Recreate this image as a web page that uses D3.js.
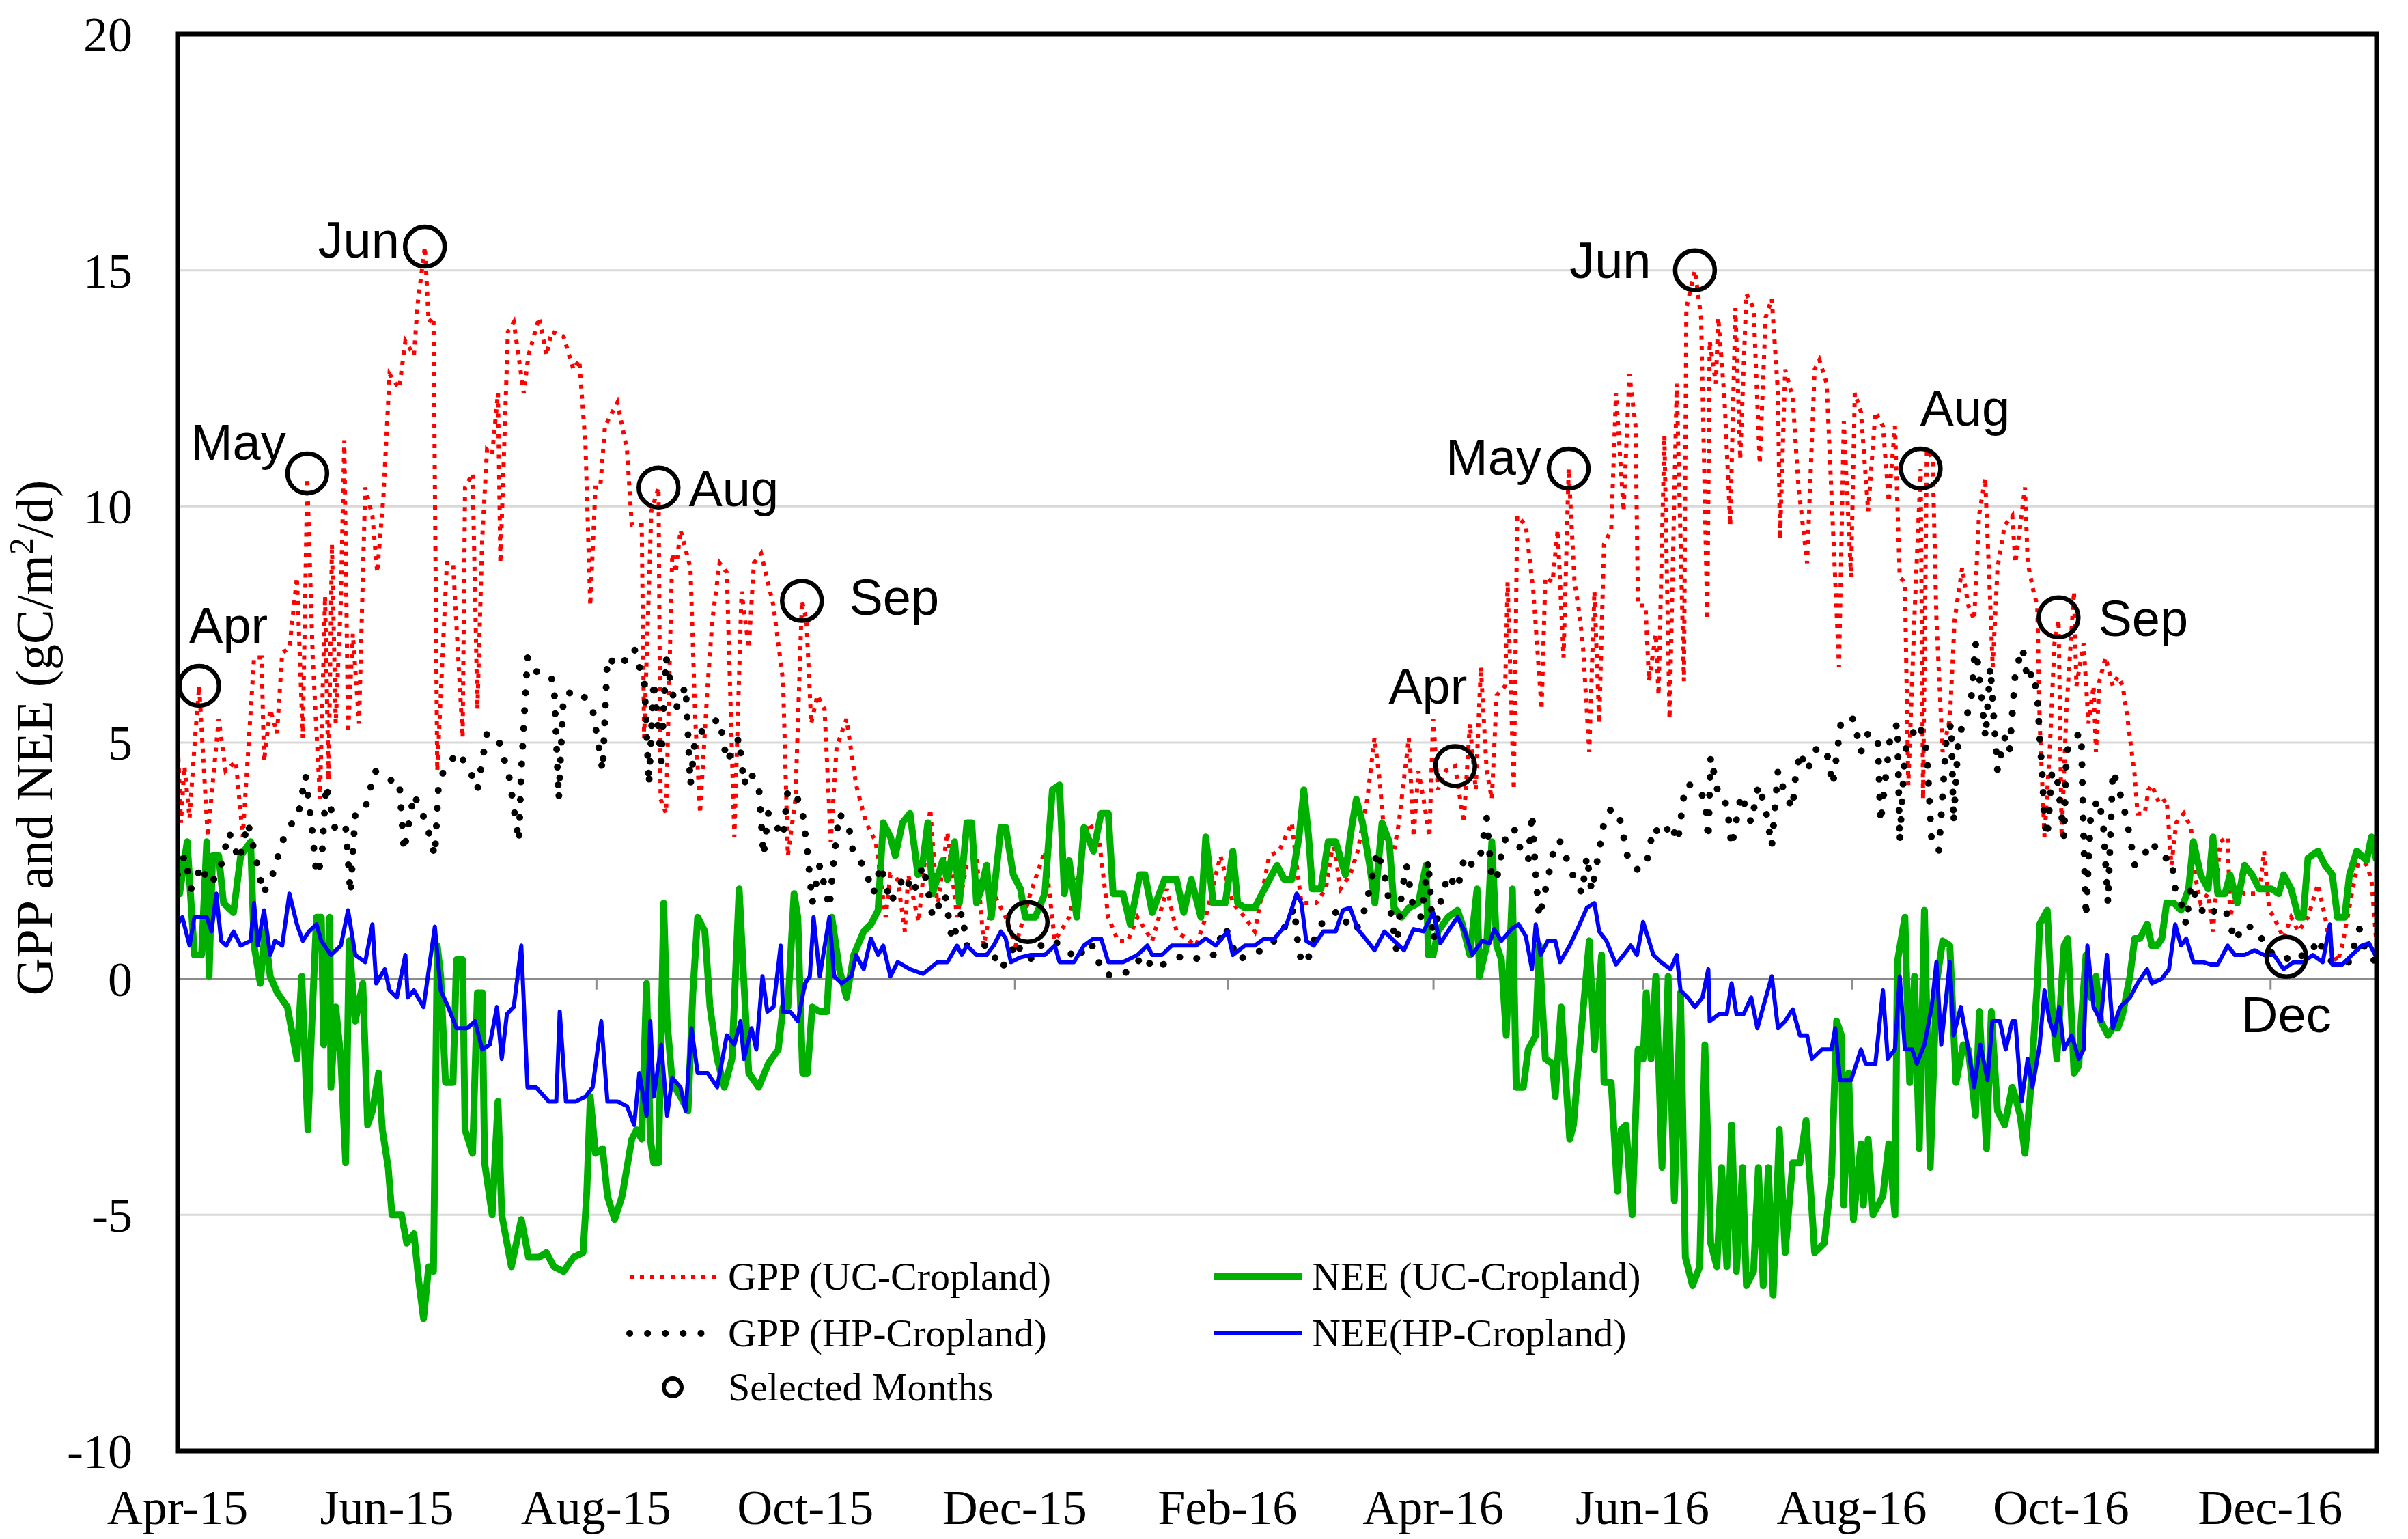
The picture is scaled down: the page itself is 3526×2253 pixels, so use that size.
<!DOCTYPE html>
<html>
<head>
<meta charset="utf-8">
<script src="https://cdn.jsdelivr.net/npm/d3@7"></script>
<style>
  html, body { margin: 0; padding: 0; background: #fff; }
  svg { display: block; }
</style>
</head>
<body>
<svg id="chart" width="3526" height="2253"></svg>
<script>
// Daily GPP / NEE as [days since 1 Apr 2015, value]

var gppUC = [
  [0,5.1],[1,3.3],[2,4.5],[3.5,3.4],[5,5.0],[6.3,6.2],[8.8,3.0],[12,5.5],[14,4.4],[17,4.6],[19,3.0],
  [22.3,6.8],[24.5,6.8],[25.2,4.6],[27,5.7],[29,5.2],[30.5,6.9],[32.6,7.0],[34.8,8.5],[36.5,5.1],
  [37.8,10.6],[39.4,6.8],[41.5,3.8],[43,8.1],[44,4.2],[45,9.2],[46.1,5.4],[47.6,8.0],[48.6,11.4],
  [49.7,5.2],[51.1,7.3],[52.9,5.4],[54.7,10.4],[56.8,9.8],[58.2,8.6],[60,10.2],[61.8,12.8],[64.6,12.5],
  [66.4,13.5],[68.9,13.2],[70,14.3],[72.1,15.5],[73.2,13.9],[74.6,14.0],[75.7,4.4],[78.5,8.8],[80.3,8.8],
  [83.1,5.1],[83.8,10.4],[86,10.7],[87.4,5.7],[88.8,9.3],[90.2,11.2],[91.7,11.1],[93.4,12.4],[94.1,8.8],
  [96.3,13.7],[98,13.9],[100.9,12.4],[102.3,13.2],[105.4,14.0],[107.5,13.2],[109,13.7],[112.5,13.6],
  [115.4,12.9],[117.1,13.1],[118.9,11.3],[120.3,7.9],[121.8,10.4],[123.2,10.4],[124.6,11.7],[128.2,12.2],
  [131,11.2],[132.4,9.6],[135.3,9.6],[136,5.1],[138.1,9.9],[140.2,10.4],[140.8,3.8],[142.4,3.5],[144.2,9.0],
  [145.2,8.6],[146.6,9.5],[149.5,8.7],[150.9,5.5],[152.3,3.5],[154.5,6.2],[155.9,7.6],[158,8.8],[160.1,8.6],
  [162.3,3.0],[164.4,8.2],[166.5,7.0],[168,8.8],[170.1,9.0],[173.7,7.9],[176.5,6.3],[177.9,2.6],[180.1,3.8],
  [182,8.0],[183.3,7.6],[184.7,5.4],[186.5,6.0],[188.6,5.7],[190.4,2.9],[192.1,4.9],[195,5.5],[196.4,4.8],
  [197.8,4.1],[200.7,3.3],[203.5,2.9],[206.4,1.3],[207.8,2.2],[209.9,2.1],[212,1.0],[213,2.2],[216,1.2],
  [219.4,3.6],[221.5,1.5],[224.4,3.1],[227.2,1.3],[230,2.4],[232.9,2.6],[235,0.7],[237.9,1.8],[241.4,1.3],
  [244.3,0.7],[248.6,1.8],[252.8,2.7],[255.7,0.8],[259.9,1.3],[265.6,3.3],[268.5,3.0],[271.3,1.3],
  [274.1,0.8],[277,0.8],[279.8,1.3],[284.1,0.8],[288.4,1.9],[291.2,1.0],[296.9,0.7],[299.7,1.3],[304,2.6],
  [307.6,1.6],[311.1,1.3],[314,1.0],[318.2,2.6],[321.1,2.7],[324.8,3.3],[326.2,2.4],[327.6,1.6],
  [329.7,1.6],[331.9,1.6],[334.7,1.9],[336.9,2.9],[339,1.9],[341.8,2.2],[344,2.7],[346.8,3.8],[348.9,5.1],
  [350.4,4.2],[351.8,3.0],[354.6,2.7],[356,3.3],[358.9,5.1],[360.3,3.0],[361.7,4.4],[363.2,3.8],[364.9,3.0],
  [366,5.5],[367.4,4.0],[369.6,4.4],[372.4,4.5],[374.9,3.3],[376.7,5.4],[378.4,4.0],[379.9,6.6],[381.6,4.4],
  [383.1,3.8],[384.5,6.0],[387,6.2],[387.7,8.4],[389.5,4.0],[390.5,9.8],[393,9.6],[395.2,8.2],[397.6,5.7],
  [398.7,8.5],[400.8,8.4],[402.3,9.5],[404,6.8],[405.5,10.8],[407.2,8.4],[408.7,7.7],[409.7,7.0],
  [411.5,4.8],[413,8.2],[414.4,5.4],[415.8,9.2],[417.9,9.5],[419.3,12.4],[421.5,9.9],[423.2,12.8],
  [425,11.7],[425.7,7.9],[427.9,7.9],[428.9,6.3],[430.9,7.3],[431.7,6.0],[433.4,11.5],[434.9,5.5],
  [437,12.6],[439.1,6.3],[439.8,14.2],[442.3,15.0],[444.1,14.0],[445.9,7.6],[446.6,13.5],[448.4,12.6],
  [449.1,14.0],[450.9,12.3],[452.6,9.6],[454.1,14.2],[455.5,11.0],[457.3,14.5],[459.4,14.2],[461.2,10.9],
  [462.9,14.0],[464.7,14.4],[466.5,12.4],[467.1,9.3],[468.6,12.9],[470.8,12.3],[472.5,10.4],[475,8.8],
  [477.2,12.9],[478.6,13.1],[480.7,12.6],[484.3,6.6],[485.7,11.8],[487.8,8.5],[488.9,12.4],[490.7,12.0],
  [492.8,9.9],[494.9,12.0],[497.1,11.7],[498.8,10.1],[500.6,11.7],[502,8.5],[503.5,8.4],[504.5,4.1],
  [506.3,7.7],[508.1,10.8],[508.8,3.8],[509.9,11.2],[511.6,11.0],[512.7,7.6],[514.5,4.8],[516.6,5.5],
  [518,7.6],[520.2,8.7],[522,7.9],[523.7,7.6],[525.1,9.8],[526.9,10.6],[528.4,7.9],[529.1,6.6],[530.5,8.7],
  [532.6,9.6],[534.8,9.8],[535.7,8.8],[536.8,9.4],[538.5,10.4],[539.3,8.8],[541,8.2],[542.1,7.9],
  [542.8,5.4],[544.2,3.0],[545.7,4.8],[547.1,7.1],[548.3,7.6],[549.2,3.0],[550.6,5.7],[552.8,8.2],
  [553.5,6.2],[555.6,7.1],[557,5.4],[558.5,6.2],[559.2,4.8],[560.2,6.3],[562,6.8],[564.1,6.2],[565.6,6.4],
  [567,6.2],[568.4,5.5],[570.5,4.3],[571.3,3.5],[573.4,3.5],[574.5,4.0],[575.5,4.1],[577.7,3.7],[579.8,3.8],
  [581.2,2.4],[582.6,3.3],[584.8,3.5],[586.9,3.2],[588.3,2.1],[589.7,1.6],[591.9,1.8],[593.3,1.0],
  [595.4,2.9],[597.6,3.0],[598.3,1.3],[600.4,1.9],[602.5,1.8],[604.7,1.8],[606.8,1.8],[608.2,2.7],
  [609.7,1.45],[611.1,1.3],[613.9,0.85],[616.1,1.3],[618.2,1.0],[621,1.3],[623.9,2.0],[626,1.3],
  [627.4,0.7],[629.6,0.35],[631,0.7],[633.8,1.8],[636,2.6],[638.1,2.4],[639.5,2.1],[641,0.7]
];

var gppHP = [
  [0,2.2],[2,2.6],[4,1.9],[7,2.4],[9,2.0],[12,2.2],[15,3.1],[18,2.5],[20.5,3.3],[22.7,2.6],[25,1.8],
  [27.7,2.2],[30.5,2.9],[33.4,3.3],[35,3.4],[37.3,4.3],[39,3.3],[40.5,2.2],[42,2.5],[43.3,4.1],[46.1,3.1],
  [49,3.2],[50.4,1.8],[51.8,3.5],[54.7,3.6],[57.5,4.4],[61.8,4.2],[64.6,4.2],[66,2.7],[68.9,3.9],
  [72.5,3.3],[75,2.6],[76,4.0],[77.5,4.4],[81.7,4.8],[85.3,4.4],[87.4,4.0],[90.2,5.2],[93.8,5.0],
  [96.6,4.3],[99.5,2.9],[100.2,4.4],[102,6.8],[104,6.5],[106.8,6.5],[109.7,6.3],[111.1,3.8],[112.5,6.0],
  [116.1,6.1],[118.2,6.0],[121,5.7],[123.9,4.4],[125.3,6.8],[128.9,6.6],[133.1,7.0],[134.6,6.6],[136,6.4],
  [137.4,4.1],[138.8,6.3],[141,4.6],[142.4,6.8],[145.2,5.7],[148.1,6.2],[149.5,4.1],[150.9,5.1],
  [155.2,5.4],[158,5.5],[160.1,4.6],[163.7,5.1],[165.1,4.1],[166.5,4.4],[169.4,4.1],[170.8,2.6],
  [172.2,3.5],[176.5,3.0],[177.9,4.0],[180.8,3.8],[182.2,3.5],[183.6,2.7],[185,1.6],[187.2,2.4],[190,1.5],
  [191.4,2.6],[192.9,3.5],[195.7,3.2],[197.1,2.6],[200,2.4],[202.8,1.8],[205,2.4],[207.8,1.6],[212,2.2],
  [214.4,1.8],[217.3,2.4],[218.7,1.9],[220.1,1.3],[223.7,1.8],[225.8,0.8],[228.6,1.4],[230.1,0.7],
  [232.2,0.7],[236.5,0.7],[240,0.2],[242.9,0.5],[244.3,0.8],[246.4,0.5],[248.6,0.4],[250.7,0.7],
  [252.8,0.7],[255.7,0.8],[257.1,0.7],[262.8,0.4],[264.2,0.7],[266.3,0.75],[269.9,0.1],[274.1,0.05],
  [278.4,0.2],[281.3,0.5],[284.8,0.2],[289.8,0.4],[294.1,0.5],[298.3,0.4],[301.9,0.5],[305.4,1.1],
  [309,0.4],[312.5,0.5],[316.1,0.6],[319.7,0.8],[323.3,1.15],[325.5,1.5],[326.9,0.5],[329,0.3],
  [331.2,0.8],[333.3,1.15],[336.1,1.3],[338.3,1.45],[341.1,1.15],[343.3,1.0],[345.4,1.3],[347.5,1.9],
  [349.7,2.7],[351.8,2.2],[353.9,1.3],[355.3,0.6],[356.8,1.8],[358.2,2.4],[360.3,1.45],[362.5,1.3],
  [364.6,2.5],[366,0.8],[368.1,1.6],[370.3,2.2],[373.1,1.9],[375.2,2.6],[377.4,2.4],[379.5,2.5],
  [381.6,3.4],[383.1,2.1],[384.5,2.1],[386.6,2.9],[389.5,3.2],[391.6,2.7],[393.7,2.5],[394.8,3.5],
  [395.9,2.2],[396.9,1.3],[399.4,2.1],[401.6,2.9],[403,2.9],[405.1,2.5],[407.2,2.1],[409.4,1.8],
  [410.8,2.6],[412.2,1.85],[413.6,2.4],[415.8,3.3],[417.9,3.6],[420.1,3.5],[421.5,3.0],[422.9,2.5],
  [425.7,2.3],[428.1,2.4],[430.2,3.2],[433.1,3.0],[435.2,3.3],[437.3,2.9],[439.5,4.1],[442.3,4.1],
  [445.2,3.8],[446.2,2.95],[446.9,4.7],[449.4,3.8],[451.6,3.7],[453,2.8],[455.8,3.9],[458.7,3.3],
  [460.8,4.1],[462.9,3.6],[464.7,2.8],[466.5,4.4],[468.6,3.9],[470.8,3.6],[471.5,4.2],[472.9,4.8],
  [475,4.4],[477.9,4.9],[480.7,4.8],[482.5,4.1],[485,5.5],[488.5,5.5],[490.7,4.8],[492.8,5.2],[495.6,5.1],
  [496.4,3.3],[499.2,5.1],[501.3,5.4],[502,2.9],[503.5,4.8],[504.9,5.1],[507.7,5.4],[509.9,4.8],
  [511.3,2.9],[513.4,2.7],[515.6,5.1],[517,5.4],[517.7,3.3],[519.1,5.1],[520.5,5.4],[522.7,5.8],
  [524.1,7.1],[525.5,6.2],[527,5.1],[528.4,6.6],[530.5,4.4],[532.6,5.1],[534,4.8],[535.7,6.5],[537.8,7.0],
  [539.3,6.3],[540.7,6.5],[542.1,6.0],[542.8,5.1],[543.5,4.4],[544.2,3.3],[545,3.0],[546.4,4.4],
  [547.8,4.3],[549.9,3.0],[550.6,4.8],[552.8,5.1],[554.9,5.2],[555.6,3.0],[556.3,1.3],[557.7,3.5],
  [559.9,3.8],[561.3,3.3],[562.7,1.6],[564.1,4.4],[565.6,4.1],[567.7,3.5],[569.1,3.0],[570.5,2.4],
  [572.7,2.55],[575.5,2.9],[578.4,2.55],[581.2,2.55],[582.3,1.9],[584,1.6],[585.5,1.15],[586.9,2.0],
  [589,1.6],[591.2,1.3],[594,1.45],[596.8,1.5],[598.3,1.15],[599.7,0.8],[602.5,1.15],[605.4,1.05],
  [606.8,1.0],[608.2,0.7],[611.1,0.5],[613.9,0.5],[616.1,0.35],[619.6,0.5],[621.7,0.5],[623.9,0.85],
  [626,0.5],[628.1,0.35],[630.3,0.35],[633.1,0.35],[634.5,0.7],[636,1.05],[638.1,0.5],[641,0.35]
];

var neeUC = [
  [0,2.6],[0.6,1.8],[2.8,2.9],[4.9,0.5],[7,0.5],[8.5,2.9],[9.2,0.05],[10.2,2.6],[12,2.6],[13.4,1.6],
  [16.3,1.4],[18.4,2.6],[21.3,2.9],[22.3,0.7],[24.1,-0.1],[25.5,1.0],[27,0.05],[29.1,-0.3],[32,-0.6],
  [34.8,-1.7],[36.2,0.05],[38,-3.2],[39,-1.2],[40.5,1.3],[41.9,1.3],[42.6,-1.4],[44.4,1.3],[44.7,-2.3],
  [46.1,-0.6],[47.6,-1.7],[49,-3.9],[50,0.8],[51.8,-0.9],[54,-0.1],[55.4,-3.1],[56.8,-2.8],[58.6,-2.0],
  [59.7,-3.2],[61.4,-4.0],[62.5,-5.0],[65.3,-5.0],[66.8,-5.6],[68.9,-5.4],[70.3,-6.4],[71.7,-7.2],
  [73.2,-6.1],[74.6,-6.2],[75.7,0.7],[76.7,0.05],[78.1,-2.2],[80.3,-2.2],[81.3,0.4],[83.1,0.4],
  [83.8,-3.2],[86,-3.7],[87.4,-0.3],[88.8,-0.3],[89.5,-3.9],[91.7,-5.0],[93.4,-2.6],[94.5,-5.0],
  [97.3,-6.1],[100.2,-5.1],[102.3,-5.9],[105.4,-5.9],[107.5,-5.8],[109.7,-6.1],[112.5,-6.2],[115.4,-5.9],
  [118.2,-5.8],[119.3,-4.5],[120.3,-2.5],[121.8,-3.7],[123.9,-3.6],[125.3,-4.6],[127.4,-5.1],[129.6,-4.6],
  [132.4,-3.4],[133.8,-3.2],[135.3,-3.4],[136.7,-0.1],[137.8,-3.4],[138.8,-3.9],[140.2,-3.9],[141.7,1.6],
  [142.7,-0.9],[144.2,-2.2],[146.6,-2.5],[148.8,-2.8],[150.2,-0.3],[151.6,1.3],[153.7,1.0],[155.2,-0.6],
  [157.3,-1.7],[159.4,-2.3],[161.6,-1.7],[163.7,1.9],[165.1,-0.1],[166.5,-2.0],[169.4,-2.3],[172.2,-1.8],
  [175.1,-1.5],[176.5,-0.6],[177.9,-0.6],[179.7,1.8],[180.8,1.3],[182.2,-2.0],[183.6,-2.0],[185,-0.6],
  [187.2,-0.7],[189.3,-0.7],[190.7,1.3],[192.9,0.2],[195,-0.4],[197.1,0.5],[200,1.0],[202.1,1.15],
  [204.2,1.45],[205.7,3.3],[207.8,3.0],[209.2,2.6],[211.3,3.3],[213.5,3.5],[215.8,2.2],[217.3,2.5],
  [218.7,3.3],[220.1,1.8],[223,2.5],[224.4,2.1],[226.5,2.9],[227.9,1.6],[230.1,3.3],[231.5,3.3],
  [232.9,1.6],[234.3,1.9],[235.8,2.4],[237.2,1.3],[240,3.2],[241.4,3.2],[243.6,2.2],[245.7,1.9],
  [247.1,1.3],[250,1.3],[252.8,1.8],[255,4.0],[257.1,4.1],[258.5,1.8],[259.9,2.5],[262.1,1.3],[264.2,3.2],
  [267,2.7],[269.2,3.5],[271.3,3.5],[272.7,1.8],[275.6,1.8],[277.7,1.15],[280.5,2.2],[282,2.2],
  [284.1,1.4],[287.7,2.1],[291.2,2.1],[293.3,1.4],[295.5,2.1],[298.3,1.3],[299.7,3.0],[301.9,1.6],
  [305.4,1.6],[307.6,2.7],[309,1.6],[311.1,1.5],[314,1.5],[316.1,1.8],[319,2.2],[320.5,2.4],[322.6,2.1],
  [324.8,2.1],[326.9,3.0],[328.3,4.0],[329.7,3.0],[330.8,1.9],[333.3,1.9],[335.4,2.9],[337.6,2.9],
  [340.4,2.2],[341.8,3.0],[343.6,3.8],[345.4,3.3],[347.5,2.4],[349,1.6],[351.1,3.3],[353.2,2.9],
  [354.6,1.5],[356.8,1.3],[358.9,1.5],[361.7,1.6],[363.9,2.4],[364.6,0.5],[366,0.5],[367.4,1.0],
  [370.3,1.3],[373.1,1.45],[374.5,1.15],[376.7,0.5],[378.8,1.9],[379.5,0.05],[381.6,0.7],[383.1,2.9],
  [384.5,0.7],[385.9,0.4],[387.3,-1.2],[389.1,1.9],[390.2,-2.3],[392.3,-2.3],[393.7,-1.5],[395.9,-1.2],
  [396.9,0.7],[398.7,-1.7],[400.8,-1.8],[401.6,-2.5],[403.3,-0.6],[405.8,-3.4],[406.9,-3.1],[408.7,-1.5],
  [411.5,0.8],[413,-1.5],[415.1,0.5],[415.8,-2.2],[417.9,-2.2],[419.7,-4.5],[420.8,-3.2],[422.2,-3.1],
  [424,-5.0],[425.7,-1.5],[427.2,-1.7],[428.1,-0.3],[429.5,-1.7],[430.9,0.05],[432.7,-4.0],[434.5,0.05],
  [436.3,-4.7],[438.1,-0.3],[439.5,-5.9],[441.6,-6.5],[443.7,-6.1],[445.2,-1.4],[446.9,-5.6],[448.7,-6.1],
  [450.1,-4.0],[451.6,-6.1],[453,-3.1],[454.4,-6.2],[456.2,-4.0],[457.3,-6.5],[459.4,-6.2],[460.8,-4.0],
  [462.2,-6.5],[463.7,-4.0],[465.1,-6.7],[466.9,-3.2],[468.6,-5.8],[470.8,-3.9],[472.9,-3.9],[474.7,-3.0],
  [477.2,-5.8],[480,-5.6],[482.1,-4.2],[483.6,-0.9],[485,-1.2],[485.7,-4.8],[487.1,-2.0],[488.5,-5.1],
  [490.7,-3.5],[491.4,-4.8],[492.8,-3.4],[494.2,-5.0],[497.1,-4.6],[498.8,-3.5],[500.6,-5.0],[501.3,0.35],
  [503.5,1.3],[504.9,-2.2],[506.3,0.05],[507.7,-3.6],[509.2,1.45],[510.9,-4.0],[512.7,-0.1],[514.5,0.8],
  [516.6,0.7],[518.4,-2.2],[520.5,-1.4],[522,-1.5],[524.1,-2.9],[525.2,-0.7],[527.3,-3.6],[528.7,-0.7],
  [530.5,-2.8],[532.6,-3.1],[534.8,-2.3],[535.7,-2.5],[537.1,-2.9],[538.5,-3.7],[540,-2.5],[542.1,-0.1],
  [542.8,1.15],[545,1.45],[546.4,-0.6],[547.8,-1.7],[549.9,0.7],[551,0.85],[552.8,-2.0],[554.2,-1.85],
  [554.9,-0.9],[556.3,0.5],[557.7,-0.4],[559.2,0.05],[560.6,-0.9],[562.7,-1.2],[564.1,-1.05],
  [565.6,-1.05],[567,-0.75],[569.1,0.05],[570.5,0.85],[572,0.85],[574.1,1.15],[575.5,0.7],[577,0.7],
  [578.4,0.85],[579.8,1.6],[581.9,1.6],[584,1.45],[586.2,1.9],[587.6,2.9],[589.7,2.2],[591.9,1.9],
  [593.3,3.0],[594.7,1.8],[596.8,1.8],[598.3,2.2],[600.4,1.6],[602.5,2.4],[604.7,2.2],[606.8,1.9],
  [608.2,1.9],[610.4,1.9],[612.5,1.8],[613.9,2.2],[616.1,1.9],[618.2,1.3],[619.6,1.3],[621,2.55],
  [623.9,2.7],[626,2.4],[628.1,2.2],[629.6,1.3],[631.7,1.3],[633.1,2.2],[635.2,2.7],[638.1,2.5],
  [639.5,3.0],[641,2.5]
];

var neeHP = [
  [0,1.15],[1.4,1.3],[3.5,0.7],[4.9,1.3],[7,1.3],[8.5,1.3],[9.9,1.0],[11.3,1.8],[12.7,0.8],[14.2,0.7],
  [16.3,1.0],[18.4,0.7],[21.3,0.8],[22.3,1.6],[23.4,0.7],[25.2,1.45],[27,0.5],[28.4,0.8],[30.5,0.7],
  [32.6,1.8],[34.8,1.15],[36.5,0.8],[38.3,1.0],[40.5,1.15],[41.9,0.8],[44.7,0.5],[47.6,0.7],[49.7,1.45],
  [51.8,0.5],[54.7,0.35],[56.8,1.15],[57.9,-0.1],[60.4,0.2],[61.8,-0.25],[63.9,-0.4],[66.4,0.5],
  [67.1,-0.4],[68.9,-0.25],[71.7,-0.6],[75,1.1],[76.7,-0.25],[78.9,-0.6],[81.3,-1.05],[84.5,-1.05],
  [86.7,-0.9],[88.8,-1.5],[91,-1.4],[93.1,-0.6],[94.5,-1.7],[96,-0.75],[98,-0.6],[100.2,0.7],[102,-2.3],
  [104.5,-2.3],[108.2,-2.6],[110.4,-2.6],[111.4,-0.7],[113.2,-2.6],[116.1,-2.6],[118.9,-2.5],[121,-2.3],
  [123.5,-0.9],[125.3,-2.6],[128.2,-2.6],[131,-2.7],[133.1,-3.1],[134.6,-2.0],[136.7,-2.9],[137.8,-0.9],
  [138.8,-2.5],[141,-1.4],[142.7,-2.9],[144.2,-2.1],[146.6,-2.3],[148.1,-2.8],[149.8,-1.05],[151.6,-2.0],
  [154.5,-2.0],[157.3,-2.3],[160.1,-1.2],[162.3,-1.4],[164.1,-0.9],[165.1,-1.7],[167.3,-1.05],
  [168.7,-1.5],[170.5,0.05],[171.9,-0.7],[173.7,-0.6],[175.8,0.7],[176.5,-0.7],[178.6,-0.7],[180.8,-0.9],
  [182.9,-0.1],[184.3,0.05],[185.4,1.3],[187.2,0.05],[190,1.3],[191.4,0.05],[193.6,-0.1],[196.4,0.05],
  [197.8,0.5],[200,0.2],[202.1,0.85],[204.2,0.5],[205.7,0.7],[207.8,0.05],[209.9,0.35],[213.5,0.2],
  [217.3,0.1],[221.5,0.35],[224.4,0.35],[227.2,0.7],[228.6,0.5],[230.1,0.7],[232.9,0.5],[235.8,0.5],
  [237.9,0.7],[240,1.0],[241.4,0.85],[242.9,0.35],[245.7,0.45],[248.6,0.5],[252.8,0.5],[255.7,0.7],
  [257.1,0.35],[261.3,0.35],[264.2,0.7],[267,0.85],[269.2,0.85],[271.3,0.35],[275.6,0.35],[279.8,0.5],
  [282.7,0.7],[284.1,0.5],[286.9,0.5],[289.8,0.7],[294.1,0.7],[296.9,0.7],[299.7,0.85],[302.6,0.7],
  [306.1,1.0],[307.6,0.5],[311.1,0.7],[314,0.7],[316.8,0.85],[319.7,0.85],[323.3,1.15],[326.2,1.8],
  [327.6,1.6],[329,0.8],[331.2,0.7],[334,1.0],[337.6,1.0],[339.7,1.45],[341.8,1.5],[344,1.05],[346.8,0.8],
  [348.9,0.6],[351.8,1.0],[354.6,0.8],[357.5,0.6],[360.3,1.05],[363.2,1.0],[366,1.4],[368.1,0.75],
  [370.3,1.0],[373.1,1.3],[375.2,1.0],[377.4,0.5],[380.2,0.8],[382.4,0.75],[383.8,1.05],[385.9,0.8],
  [388.8,1.05],[390.9,1.15],[393,0.9],[394.8,0.2],[395.9,1.15],[397.3,0.5],[399.4,0.8],[401.6,0.8],
  [403,0.35],[405.8,0.7],[408.7,1.15],[410.8,1.5],[413,1.6],[414.4,1.0],[416.5,0.8],[419.3,0.3],
  [421.5,0.5],[423.6,0.7],[425.4,0.5],[427.2,1.2],[430.2,0.5],[432.4,0.35],[435.2,0.2],[437,0.5],
  [438.1,-0.25],[440.2,-0.4],[442.3,-0.6],[444.5,-0.4],[446.2,0.2],[446.6,-0.9],[449.4,-0.75],
  [451.6,-0.75],[453,-0.1],[454.4,-0.75],[456.5,-0.75],[458.7,-0.4],[460.5,-1.05],[462.2,-0.6],
  [464.7,0.05],[466.5,-1.05],[468.6,-0.9],[470.8,-0.65],[472.9,-1.2],[475,-1.2],[476.4,-1.7],[479.3,-1.5],
  [482.1,-1.5],[483.2,-1.05],[484.6,-2.15],[487.8,-2.15],[490.7,-1.5],[492.1,-1.8],[494.9,-1.8],
  [497.1,-0.25],[498.5,-1.7],[500.6,-1.5],[502,0.05],[503.5,-1.5],[505.6,-1.5],[507,-1.8],[509.2,-1.4],
  [511.3,-0.6],[512.7,0.35],[514.1,-1.4],[516.6,0.35],[517.7,-1.2],[519.8,-0.6],[522,-1.5],[523.7,-2.3],
  [525.5,-1.4],[527.6,-2.15],[529,-0.9],[531.2,-0.9],[532.9,-1.5],[534.8,-0.9],[535.7,-0.9],[537.5,-2.6],
  [539.3,-1.7],[540.7,-2.3],[542.8,-1.4],[544.2,-0.25],[545.7,-0.9],[547.1,-1.2],[548.5,-0.6],
  [549.9,-1.5],[552.1,-1.2],[554.2,-1.7],[555.6,-1.5],[556.7,0.7],[558.5,-0.6],[560.6,-0.9],[562.4,0.5],
  [564.1,-1.05],[566.3,-0.6],[569.1,-0.4],[571.3,-0.1],[574.1,0.2],[575.5,-0.1],[578.4,0],[580.5,0.2],
  [582.3,1.15],[584,0.7],[585.5,0.85],[587.6,0.35],[590.4,0.35],[592.6,0.3],[594.7,0.3],[597.6,0.7],
  [599.7,0.5],[602.5,0.5],[605.4,0.6],[608.2,0.5],[611.1,0.5],[613.9,0.2],[616.8,0.35],[619.6,0.35],
  [622.4,0.5],[625.3,0.35],[627.4,1.15],[628.1,0.3],[631,0.3],[633.8,0.5],[636.7,0.7],[638.8,0.75],
  [641,0.45]
];

// selected months: [label, day, value]
var selectedMonths = [
  ["Apr",6.3,6.2],["May",37.8,10.7],["Jun",72.1,15.5],["Aug",140.2,10.4],["Sep",182,8.0],
  ["",247.8,1.2],["Apr",372.4,4.5],["May",405.5,10.8],["Jun",442.3,15.0],["Aug",508.1,10.8],
  ["Sep",548.3,7.65],["Dec",614.7,0.46]
];

var yTicks = [-10, -5, 0, 5, 10, 15, 20];
var legendLabels = ["GPP (UC-Cropland)", "GPP (HP-Cropland)", "NEE (UC-Cropland)", "NEE(HP-Cropland)", "Selected Months"];

///////////////////////////////////////////////////////////////////////////////
// Scales
///////////////////////////////////////////////////////////////////////////////

var startMs = Date.UTC(2015, 3, 1);
function toDate (day) { return new Date(startMs + day * 864e5); }

var plot = {left: 260, right: 3480, top: 50, bottom: 2124};

var x = d3.scaleUtc()
  .domain([new Date(startMs), new Date(Date.UTC(2017, 0, 1))])
  .range([plot.left, plot.right]);

var y = d3.scaleLinear()
  .domain([-10, 20])
  .range([plot.bottom, plot.top]);

var xTicks = d3.utcMonth.range(new Date(startMs), new Date(Date.UTC(2017, 0, 1)), 2);
var fmt = d3.utcFormat("%b-%y");

var svg = d3.select("#chart");
var serif = "'Liberation Serif', 'Times New Roman', serif";
var sans = "'Liberation Sans', Arial, sans-serif";

var redDash = "6 9", dotDash = "0.1 26";

svg.append("defs").append("clipPath").attr("id", "clip")
  .append("rect")
  .attr("x", plot.left).attr("y", plot.top)
  .attr("width", plot.right - plot.left).attr("height", plot.bottom - plot.top);

// gridlines
svg.append("g").selectAll("line")
  .data(yTicks.filter(function (t) { return t !== 0 && t !== -10 && t !== 20; }))
  .enter().append("line")
  .attr("x1", plot.left).attr("x2", plot.right)
  .attr("y1", function (t) { return y(t); })
  .attr("y2", function (t) { return y(t); })
  .attr("stroke", "#d9d9d9").attr("stroke-width", 3);

// zero axis with tick marks
var zeroAxis = svg.append("g")
  .attr("transform", "translate(0," + y(0) + ")")
  .call(d3.axisBottom(x).tickValues(xTicks).tickSize(16).tickFormat(""));
zeroAxis.select(".domain").attr("stroke", "#8c8c8c").attr("stroke-width", 3);
zeroAxis.selectAll(".tick line").attr("stroke", "#8c8c8c").attr("stroke-width", 3);

///////////////////////////////////////////////////////////////////////////////
// Series
///////////////////////////////////////////////////////////////////////////////

var line = d3.line()
  .x(function (d) { return x(toDate(d[0])); })
  .y(function (d) { return y(d[1]); });

var series = svg.append("g").attr("clip-path", "url(#clip)");

series.append("path").datum(gppUC)
  .attr("d", line).attr("fill", "none")
  .attr("stroke", "#ff0000").attr("stroke-width", 6)
  .attr("stroke-dasharray", redDash);

series.append("path").datum(neeUC)
  .attr("d", line).attr("fill", "none")
  .attr("stroke", "#00b000").attr("stroke-width", 10)
  .attr("stroke-linejoin", "round");

series.append("path").datum(gppHP)
  .attr("d", line).attr("fill", "none")
  .attr("stroke", "#000").attr("stroke-width", 10)
  .attr("stroke-linecap", "round")
  .attr("stroke-dasharray", dotDash);

series.append("path").datum(neeHP)
  .attr("d", line).attr("fill", "none")
  .attr("stroke", "#0000ff").attr("stroke-width", 6)
  .attr("stroke-linejoin", "round");

///////////////////////////////////////////////////////////////////////////////
// Selected months
///////////////////////////////////////////////////////////////////////////////

// label placement relative to its circle, per marker
var labelOffset = [[43,-90],[-101,-47],[-97,-11],[110,0],[135,-7],[0,0],
                   [-40,-119],[-110,-18],[-124,-16],[65,-90],[124,0],[0,83]];

var marks = svg.append("g");
marks.selectAll("circle")
  .data(selectedMonths)
  .enter().append("circle")
  .attr("cx", function (d) { return x(toDate(d[1])); })
  .attr("cy", function (d) { return y(d[2]); })
  .attr("r", 29)
  .attr("fill", "none").attr("stroke", "#000").attr("stroke-width", 6.5);

marks.selectAll("text")
  .data(selectedMonths)
  .enter().append("text")
  .attr("x", function (d, i) { return x(toDate(d[1])) + labelOffset[i][0]; })
  .attr("y", function (d, i) { return y(d[2]) + labelOffset[i][1] + 27; })
  .attr("text-anchor", "middle")
  .attr("font-family", sans).attr("font-size", 74)
  .text(function (d) { return d[0]; });

///////////////////////////////////////////////////////////////////////////////
// Frame, axes labels
///////////////////////////////////////////////////////////////////////////////

svg.append("rect")
  .attr("x", plot.left).attr("y", plot.top)
  .attr("width", plot.right - plot.left).attr("height", plot.bottom - plot.top)
  .attr("fill", "none").attr("stroke", "#000").attr("stroke-width", 7);

svg.append("g").selectAll("text")
  .data(yTicks)
  .enter().append("text")
  .attr("x", 194)
  .attr("y", function (t) { return y(t) + 25; })
  .attr("text-anchor", "end")
  .attr("font-family", serif).attr("font-size", 72)
  .text(function (t) { return t; });

svg.append("g").selectAll("text")
  .data(xTicks)
  .enter().append("text")
  .attr("x", function (d) { return x(d); })
  .attr("y", 2231)
  .attr("text-anchor", "middle")
  .attr("font-family", serif).attr("font-size", 72)
  .text(function (d) { return fmt(d); });

var ytitle = svg.append("text")
  .attr("transform", "translate(76,1080) rotate(-90)")
  .attr("text-anchor", "middle")
  .attr("font-family", serif).attr("font-size", 76);
ytitle.append("tspan").text("GPP and NEE (gC/m");
ytitle.append("tspan").attr("dy", -28).attr("font-size", 50).text("2");
ytitle.append("tspan").attr("dy", 28).text("/d)");

///////////////////////////////////////////////////////////////////////////////
// Legend
///////////////////////////////////////////////////////////////////////////////

var legend = svg.append("g").attr("font-family", serif).attr("font-size", 58);
var legendItems = [
  {x: 922, y: 1869, stroke: "#ff0000", width: 6, dash: redDash, cap: "butt"},
  {x: 922, y: 1952, stroke: "#000", width: 10, dash: dotDash, cap: "round"},
  {x: 1777, y: 1869, stroke: "#00b000", width: 10, dash: null, cap: "butt"},
  {x: 1777, y: 1952, stroke: "#0000ff", width: 6, dash: null, cap: "butt"}
];
legendItems.forEach(function (it, i) {
  legend.append("line")
    .attr("x1", it.x).attr("x2", it.x + 130)
    .attr("y1", it.y).attr("y2", it.y)
    .attr("stroke", it.stroke).attr("stroke-width", it.width)
    .attr("stroke-linecap", it.cap)
    .attr("stroke-dasharray", it.dash);
  legend.append("text")
    .attr("x", it.x + 144).attr("y", it.y + 19)
    .text(legendLabels[i]);
});
legend.append("circle")
  .attr("cx", 985).attr("cy", 2031).attr("r", 13)
  .attr("fill", "none").attr("stroke", "#000").attr("stroke-width", 6);
legend.append("text")
  .attr("x", 1066).attr("y", 2050)
  .text(legendLabels[4]);
</script>
</body>
</html>
